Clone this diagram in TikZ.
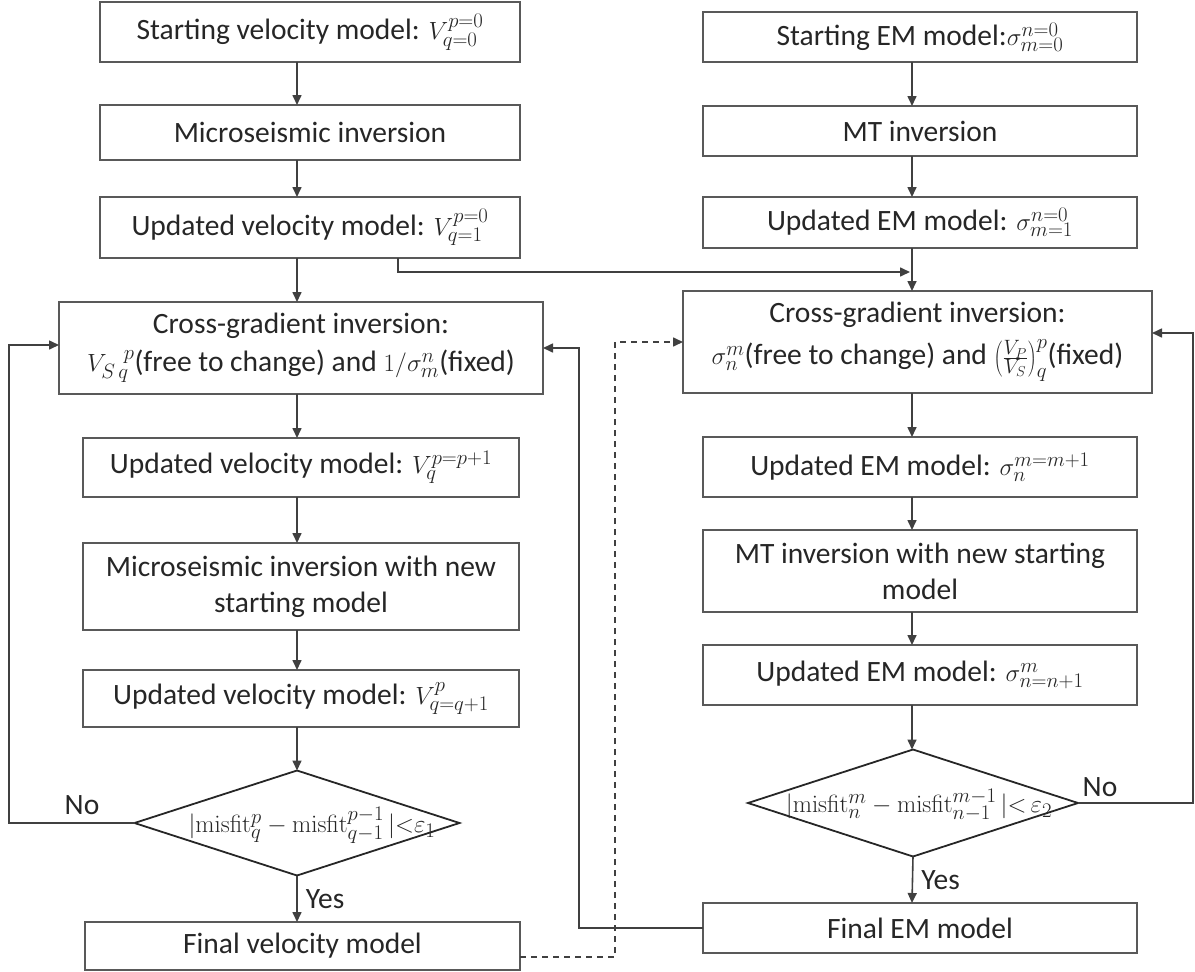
\documentclass[tikz,border=0pt]{standalone}
\usepackage[no-math]{fontspec}
\setmainfont{Carlito}
\usetikzlibrary{arrows.meta,shapes.geometric}
\def\bodyfont{\fontsize{29.5}{36}\selectfont}
\def\testfont{\fontsize{30}{34}\selectfont}
\tikzset{
  procbox/.style={draw=black!65, line width=1.8pt, rectangle, align=center, inner sep=0pt, outer sep=0pt, text=black!85, font=\bodyfont},
  decision/.style={draw=black!85, line width=1.8pt, diamond, inner sep=0pt, outer sep=0pt},
  flow/.style={draw=black!75, line width=1.6pt, -{Triangle[length=10pt,width=9pt]}},
  loosedash/.style={dash pattern=on 6pt off 5pt},
  lbl/.style={font=\bodyfont, text=black!85, inner sep=0pt}
}

\begin{document}
\begin{tikzpicture}[x=1pt,y=-1pt]
		%%%%% START %%%%%
		\useasboundingbox (0,0) rectangle (1195,972);
		\coordinate (colL) at (297,0);
		\coordinate (colR) at (912,0);
		
		% velocity side
		\node[procbox, minimum width=420, minimum height=60] (L1) at (310,32) {Starting velocity model: $V^{p=0}_{q=0}$};
		\node[procbox, minimum width=420, minimum height=55] (L2) at (310,132.5) {Microseismic inversion};
		\node[procbox, minimum width=420, minimum height=61] (L3) at (310,227.5) {Updated velocity model: $V^{p=0}_{q=1}$};
		\node[procbox, minimum width=484, minimum height=92] (L4) at (301,348) {Cross-gradient inversion:\\[2pt]$V_{S\,q}^{\phantom{S}\,p}$(free to change) and $1/\sigma^{n}_{m}$(fixed)};
		\node[procbox, minimum width=436, minimum height=59] (L5) at (301,467.5) {Updated velocity model: $V^{p=p+1}_{q}$};
		\node[procbox, minimum width=436, minimum height=87] (L6) at (301,586.5) {Microseismic inversion with new\\starting model};
		\node[procbox, minimum width=436, minimum height=57] (L7) at (301,698.5) {Updated velocity model: $V^{p}_{q=q+1}$};
		\node[decision, minimum width=325, minimum height=105] (D1) at (297,823) {};
		\node[lbl, font=\testfont] (D1txt) at (312,825) {$|\mathrm{misfit}^{p}_{q}-\mathrm{misfit}^{p-1}_{q-1}\,|{<}\varepsilon_1$};
		\node[procbox, minimum width=435, minimum height=48] (L8) at (302.5,946) {Final velocity model};
		
		% EM side
		\node[procbox, minimum width=434, minimum height=50] (R1) at (920,37) {Starting EM model:$\sigma^{n=0}_{m=0}$};
		\node[procbox, minimum width=434, minimum height=50] (R2) at (920,131) {MT inversion};
		\node[procbox, minimum width=434, minimum height=51] (R3) at (920,222.5) {Updated EM model: $\sigma^{n=0}_{m=1}$};
		\node[procbox, minimum width=469, minimum height=102] (R4) at (917.5,342) {Cross-gradient inversion:\\[6pt]$\sigma^{m}_{n}$(free to change) and $\left(\frac{V_P}{V_S}\right)^{p}_{q}$(fixed)};
		\node[procbox, minimum width=434, minimum height=60] (R5) at (920,467) {Updated EM model: $\sigma^{m=m+1}_{n}$};
		\node[procbox, minimum width=434, minimum height=82] (R6) at (920,571) {MT inversion with new starting\\model};
		\node[procbox, minimum width=434, minimum height=60] (R7) at (920,675) {Updated EM model: $\sigma^{m}_{n=n+1}$};
		\node[decision, minimum width=330, minimum height=107] (D2) at (913,803) {};
		\node[lbl, font=\testfont] (D2txt) at (919,805) {$|\mathrm{misfit}^{m}_{n}-\mathrm{misfit}^{m-1}_{n-1}\,|{<}\,\varepsilon_2$};
		\node[procbox, minimum width=434, minimum height=50] (R8) at (920,928) {Final EM model};
		
		% main flow
		\foreach \a/\b in {L1/L2,L2/L3,L3/L4,L4/L5,L5/L6,L6/L7,L7/D1}
			\draw[flow] (\a.south -| colL) -- (\b.north -| colL);
		\foreach \a/\b in {R1/R2,R2/R3,R3/R4,R4/R5,R5/R6,R6/R7,R7/D2}
			\draw[flow] (\a.south -| colR) -- (\b.north -| colR);
		\draw[flow] (D1.south) -- node[lbl, right=8pt] (yesL) {Yes} (L8.north -| colL);
		\draw[flow] (D2.south) -- node[lbl, right=8pt] (yesR) {Yes} (R8.north -| colR);
		
		% velocity model handed to EM side
		\coordinate (brk) at (398,272);
		\draw[flow] (L3.south -| brk) -- (brk) -- ([xshift=-2pt]brk -| colR);
		
		% loops back
		\coordinate (fbL) at (9,0);
		\coordinate (fbM) at (579,0);
		\coordinate (fbD) at (615,0);
		\coordinate (fbR) at (1193,0);
		\draw[flow] (D1.west) -- (D1.west -| fbL) |- ([yshift=3pt]L4.west);
		\node[lbl] (noL) at (82,805) {No};
		\draw[flow] (D2.east) -- (D2.east -| fbR) |- ([yshift=9pt]R4.east);
		\node[lbl] (noR) at (1100,787) {No};
		\draw[flow] (R8.west) -- (R8.west -| fbM) |- (L4.east);
		\draw[flow, loosedash] ([yshift=-11pt]L8.east) -- ([yshift=-11pt]L8.east -| fbD) |- (R4.west);
		%%%%% END %%%%%
	\end{tikzpicture}
\end{document}
